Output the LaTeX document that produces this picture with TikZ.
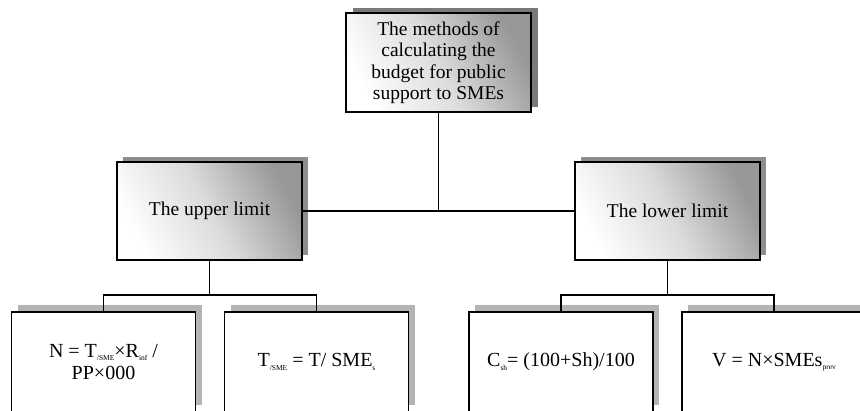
\documentclass[tikz,border=0pt]{standalone}
\usepackage{fontspec}
\setmainfont{Liberation Serif}
\usetikzlibrary{shadows}
\definecolor{shA}{HTML}{7A7A7A}
\definecolor{shB}{HTML}{8E8E8E}
\definecolor{shC}{HTML}{B4B4B4}
\definecolor{gradgray}{HTML}{989898}
\newcommand{\sbx}[1]{\raisebox{-0.35ex}{\fontsize{7.5}{7.5}\selectfont #1}}
\begin{document}
\begin{tikzpicture}[x=1pt,y=-1pt,
  box/.style={draw=black, line width=1.5pt, top color=gradgray, bottom color=white,
    middle color=gradgray!35, shading angle=-62, align=center, inner sep=0pt,
    minimum width=185pt, minimum height=99pt,
    font=\fontsize{19.5}{21.5}\selectfont},
  sbox/.style={draw=black, line width=1.5pt, fill=white, align=center, inner sep=0pt,
    minimum width=184pt, minimum height=100pt,
    font=\fontsize{20}{22}\selectfont},
  shadA/.style={drop shadow={shadow xshift=7pt, shadow yshift=5pt, fill=shA, opacity=1}},
  shadB/.style={drop shadow={shadow xshift=6pt, shadow yshift=5pt, fill=shB, opacity=1}},
  shadC/.style={drop shadow={shadow xshift=6pt, shadow yshift=7pt, fill=shC, opacity=1}},
  link/.style={draw=black, line width=1.3pt}]
\clip (0,0) rectangle (860,410);
\fill[white] (0,0) rectangle (860,410);

\node[box, shadA] (top) at (438.5,62.5) {The methods of\\calculating the\\budget for public\\support to SMEs};
\node[box, shadB, minimum height=98pt] (ul) at (209.5,211) {The upper limit};
\node[box, shadB, minimum height=98pt] (ll) at (667.5,211) {The lower limit};

\node[sbox, shadC] (b1) at (103.5,362) {N = T\sbx{/SME}×R\sbx{inf} /\\PP×000};
\node[sbox, shadC] (b2) at (316.5,362) {T\sbx{/SME} = T/ SME\sbx{s}};
\node[sbox, shadC] (b3) at (561,362) {C\sbx{sh}= (100+Sh)/100};
\node[sbox, shadC] (b4) at (774,362) {V = N×SMEs\sbx{prev}};

\coordinate (j1) at (ul.south |- 0,295);
\coordinate (j2) at (ll.south |- 0,295);

\draw[link] (top.south) -- (top.south |- ul.east);
\draw[link] (ul.east) -- (ll.west);
\draw[link] (ul.south) -- (j1);
\draw[link] (b1.north) -- (b1.north |- j1) -- (b2.north |- j1) -- (b2.north);
\draw[link] (ll.south) -- (j2);
\draw[link] (b3.north) -- (b3.north |- j2) -- (b4.north |- j2) -- (b4.north);
\end{tikzpicture}
\end{document}
